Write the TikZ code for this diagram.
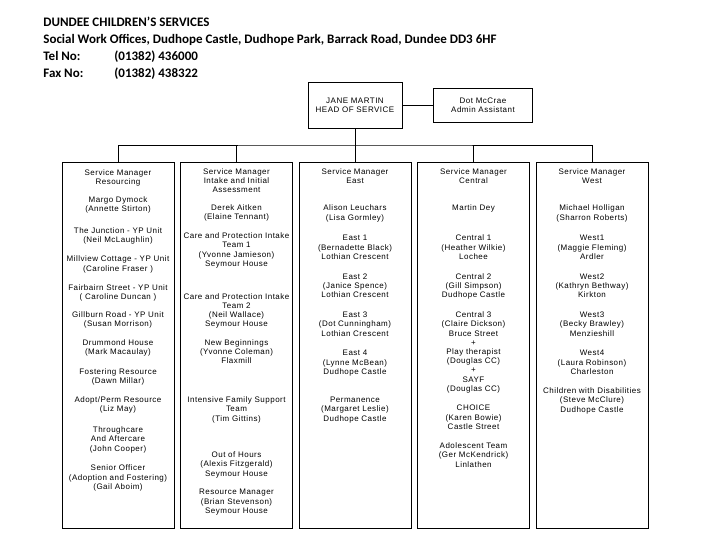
\documentclass[tikz,border=0pt]{standalone}
\usepackage{fontspec}
\setmainfont{Liberation Sans}
\newfontfamily\hdrfont{Carlito}
\newfontfamily\boxfont[LetterSpace=6]{Liberation Sans}
\usepackage{xcolor}
\usepackage{tikz}
\usetikzlibrary{positioning,calc}

\begin{document}
\begin{tikzpicture}[
    x=1pt, y=-1pt,
    line width=0.8pt,
    hdr/.style={font=\hdrfont\bfseries\fontsize{13}{15}\selectfont, anchor=base west, inner sep=0pt},
    topbox/.style={draw, rectangle, align=center, inner sep=0pt, font=\boxfont\fontsize{8}{9.2}\selectfont},
    colbox/.style={draw, rectangle, minimum width=112pt, minimum height=365.5pt, inner sep=0pt},
    entry/.style={align=center, anchor=north, inner sep=0pt, font=\boxfont\fontsize{8}{9.2}\selectfont}
]
\useasboundingbox (0,0) rectangle (720,540);

% header
\node[hdr] (title) at (43,27) {DUNDEE CHILDREN’S SERVICES};
\node[hdr] (address) at (43,44) {Social Work Offices, Dudhope Castle, Dudhope Park, Barrack Road, Dundee DD3 6HF};
\node[hdr] (tel) at (43,61) {Tel No:};
\node[hdr] (telno) at (114,61) {(01382) 436000};
\node[hdr] (fax) at (43,78) {Fax No:};
\node[hdr] (faxno) at (114,78) {(01382) 438322};

% head of service and admin
\node[topbox, minimum width=94pt, minimum height=46pt] (head) at (355,105.3) {JANE MARTIN\\HEAD OF SERVICE};
\node[topbox, minimum width=98.4pt, minimum height=34pt] (admin) at (483,105.3) {Dot McCrae\\Admin Assistant};

% service manager columns
\foreach \i/\cx in {1/118,2/236.5,3/355,4/473.5,5/592}
    \node[colbox] (col\i) at (\cx,345.25) {};

\coordinate (hub) at (head.south |- 0,145);

% connectors
\draw (head) -- (admin);
\draw (head.south) -- (hub);
\draw (col1.north) |- (hub) -| (col5.north);
\foreach \i in {2,3,4}
    \draw (col\i.north) -- (col\i.north |- hub);

% column 1: resourcing
\foreach \y/\t [count=\n] in {
    172.7/{Service Manager\\Resourcing},
    200/{Margo Dymock\\(Annette Stirton)},
    231/{The Junction - YP Unit\\(Neil McLaughlin)},
    259.3/{Millview Cottage - YP Unit\\(Caroline Fraser )},
    287.7/{Fairbairn Street - YP Unit\\( Caroline Duncan )},
    315/{Gillburn Road - YP Unit\\(Susan Morrison)},
    342.7/{Drummond House\\(Mark Macaulay)},
    371.7/{Fostering Resource\\(Dawn Millar)},
    400/{Adopt/Perm Resource\\(Liz May)},
    430/{Throughcare\\And Aftercare\\(John Cooper)},
    468.3/{Senior Officer\\(Adoption and Fostering)\\(Gail Aboim)}}
    \node[entry] (res\n) at ($(col1.north |- 0,\y)+(0,-3.8)$) {\rule{0pt}{6pt}\t};

% column 2: intake and initial assessment
\foreach \y/\t [count=\n] in {
    171.7/{Service Manager\\Intake and Initial\\Assessment},
    207.7/{Derek Aitken\\(Elaine Tennant)},
    236/{Care and Protection Intake\\Team 1\\(Yvonne Jamieson)\\Seymour House},
    296.7/{Care and Protection Intake\\Team 2\\(Neil Wallace)\\Seymour House},
    342.7/{New Beginnings\\(Yvonne Coleman)\\Flaxmill},
    400/{Intensive Family Support\\Team\\(Tim Gittins)},
    455/{Out of Hours\\(Alexis Fitzgerald)\\Seymour House},
    492.3/{Resource Manager\\(Brian Stevenson)\\Seymour House}}
    \node[entry] (intake\n) at ($(col2.north |- 0,\y)+(0,-3.8)$) {\rule{0pt}{6pt}\t};

% column 3: east
\foreach \y/\t [count=\n] in {
    171.7/{Service Manager\\East},
    208.3/{Alison Leuchars\\(Lisa Gormley)},
    238.3/{East 1\\(Bernadette Black)\\Lothian Crescent},
    276.7/{East 2\\(Janice Spence)\\Lothian Crescent},
    315/{East 3\\(Dot Cunningham)\\Lothian Crescent},
    353.3/{East 4\\(Lynne McBean)\\Dudhope Castle},
    400/{Permanence\\(Margaret Leslie)\\Dudhope Castle}}
    \node[entry] (east\n) at ($(col3.north |- 0,\y)+(0,-3.8)$) {\rule{0pt}{6pt}\t};

% column 4: central
\foreach \y/\t [count=\n] in {
    171.7/{Service Manager\\Central},
    208.3/{Martin Dey},
    238.3/{Central 1\\(Heather Wilkie)\\Lochee},
    276.7/{Central 2\\(Gill Simpson)\\Dudhope Castle},
    315/{Central 3\\(Claire Dickson)\\Bruce Street\\+\\Play therapist\\(Douglas CC)\\+\\SAYF\\(Douglas CC)},
    408.3/{CHOICE\\(Karen Bowie)\\Castle Street},
    446/{Adolescent Team\\(Ger McKendrick)\\Linlathen}}
    \node[entry] (central\n) at ($(col4.north |- 0,\y)+(0,-3.8)$) {\rule{0pt}{6pt}\t};

% column 5: west
\foreach \y/\t [count=\n] in {
    171.7/{Service Manager\\West},
    208.3/{Michael Holligan\\(Sharron Roberts)},
    238.3/{West1\\(Maggie Fleming)\\Ardler},
    276.7/{West2\\(Kathryn Bethway)\\Kirkton},
    315/{West3\\(Becky Brawley)\\Menzieshill},
    353.3/{West4\\(Laura Robinson)\\Charleston},
    391/{Children with Disabilities\\(Steve McClure)\\Dudhope Castle}}
    \node[entry] (west\n) at ($(col5.north |- 0,\y)+(0,-3.8)$) {\rule{0pt}{6pt}\t};

\end{tikzpicture}
\end{document}
